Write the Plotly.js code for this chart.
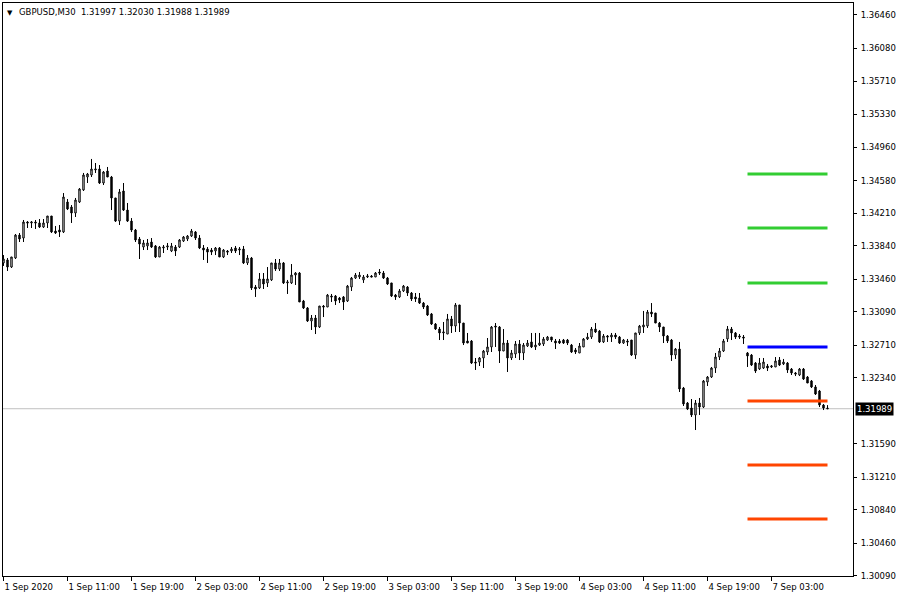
<!DOCTYPE html>
<html>
<head>
<meta charset="utf-8">
<script src="https://cdn.plot.ly/plotly-3.0.1.min.js"></script>
<style>
html,body{margin:0;padding:0;background:#fff;}
#chart{width:900px;height:600px;}
</style>
</head>
<body>
<div id="chart"></div>
<script>
// ---- data (GBPUSD, M30) ----
const symbolTitle = "GBPUSD,M30  1.31997 1.32030 1.31988 1.31989";
const lastPrice = 1.31989;

// trading days shown and the first/last half-hour slot of each day
const dayKeys   = ["2020.09.01", "2020.09.02", "2020.09.03", "2020.09.04", "2020.09.07"];
const dayFirstSlot = [6, 0, 0, 0, 0];
const dayLastSlot  = [47, 47, 47, 47, 20];

const openP = [
1.33644,1.33678,1.33598,1.33700,1.33961,1.33927,1.34109,1.34098,1.34109,1.34098,
1.34052,1.34098,1.34177,1.34007,1.34018,1.33996,1.34336,1.34279,1.34211,1.34336,
1.34473,1.34620,1.34643,1.34700,1.34711,1.34552,1.34688,1.34620,1.34382,1.34120,
1.34461,1.34245,1.34120,1.34018,1.33916,1.33825,1.33837,1.33882,1.33837,1.33712,
1.33814,1.33825,1.33780,1.33825,1.33825,1.33893,1.33916,1.33950,1.33996,1.33927,
1.33814,1.33802,1.33791,1.33780,1.33814,1.33712,1.33780,1.33780,1.33814,1.33791,
1.33802,1.33644,1.33700,1.33371,1.33360,1.33462,1.33417,1.33451,1.33644,1.33575,
1.33644,1.33417,1.33417,1.33507,1.33530,1.33212,1.33133,1.32985,1.33019,1.32917,
1.33155,1.33144,1.33269,1.33269,1.33246,1.33258,1.33212,1.33371,1.33473,1.33485,
1.33451,1.33485,1.33496,1.33485,1.33541,1.33530,1.33473,1.33417,1.33280,1.33258,
1.33326,1.33371,1.33303,1.33258,1.33246,1.33189,1.33155,1.33065,1.32951,1.32894,
1.32849,1.32837,1.33008,1.32928,1.33167,1.32962,1.32758,1.32758,1.32519,1.32519,
1.32565,1.32633,1.32690,1.32928,1.32917,1.32644,1.32735,1.32565,1.32610,1.32724,
1.32622,1.32701,1.32747,1.32690,1.32712,1.32724,1.32769,1.32803,1.32758,1.32758,
1.32769,1.32769,1.32712,1.32656,1.32622,1.32690,1.32781,1.32803,1.32894,1.32871,
1.32747,1.32815,1.32803,1.32826,1.32803,1.32735,1.32758,1.32769,1.32599,1.32849,
1.32917,1.32928,1.33087,1.33076,1.32962,1.32917,1.32815,1.32769,1.32599,1.32667,
1.32224,1.32054,1.31997,1.31918,1.32054,1.32008,1.32292,1.32349,1.32451,1.32576,
1.32644,1.32781,1.32894,1.32849,1.32815,1.32803,1.32622,1.32599,1.32508,1.32440,
1.32451,1.32474,1.32463,1.32463,1.32542,1.32497,1.32508,1.32440,1.32395,1.32372,
1.32440,1.32349,1.32304,1.32236,1.32190,1.32031,1.31997];

const highP = [
1.33734,1.33700,1.33712,1.33973,1.33984,1.34132,1.34120,1.34120,1.34132,1.34143,
1.34143,1.34177,1.34177,1.34064,1.34075,1.34438,1.34370,1.34302,1.34382,1.34495,
1.34666,1.34666,1.34825,1.34779,1.34756,1.34688,1.34734,1.34632,1.34382,1.34484,
1.34552,1.34325,1.34154,1.34030,1.33939,1.33905,1.33916,1.33927,1.33848,1.33837,
1.33848,1.33871,1.33871,1.33848,1.33916,1.33950,1.33961,1.34030,1.34007,1.33961,
1.33848,1.33825,1.33814,1.33825,1.33825,1.33802,1.33791,1.33825,1.33837,1.33825,
1.33837,1.33734,1.33712,1.33394,1.33530,1.33530,1.33598,1.33644,1.33689,1.33689,
1.33655,1.33451,1.33632,1.33541,1.33541,1.33224,1.33144,1.33053,1.33053,1.33155,
1.33167,1.33292,1.33292,1.33280,1.33258,1.33269,1.33394,1.33485,1.33530,1.33541,
1.33507,1.33519,1.33507,1.33541,1.33575,1.33553,1.33485,1.33417,1.33292,1.33348,
1.33394,1.33382,1.33314,1.33303,1.33303,1.33201,1.33167,1.33076,1.32962,1.32917,
1.32974,1.33065,1.33042,1.33189,1.33167,1.32962,1.32849,1.32769,1.32565,1.32576,
1.32656,1.32792,1.32928,1.32962,1.32928,1.32894,1.32769,1.32656,1.32758,1.32769,
1.32735,1.32769,1.32849,1.32849,1.32849,1.32803,1.32815,1.32803,1.32781,1.32781,
1.32781,1.32781,1.32724,1.32678,1.32735,1.32792,1.32849,1.32917,1.32962,1.32883,
1.32837,1.32826,1.32849,1.32849,1.32815,1.32781,1.32781,1.32769,1.32849,1.32940,
1.33099,1.33110,1.33189,1.33076,1.32974,1.32917,1.32826,1.32781,1.32678,1.32747,
1.32236,1.32065,1.32099,1.32088,1.32111,1.32315,1.32360,1.32463,1.32622,1.32678,
1.32781,1.32928,1.32917,1.32860,1.32837,1.32826,1.32633,1.32610,1.32519,1.32565,
1.32565,1.32497,1.32485,1.32576,1.32576,1.32554,1.32519,1.32451,1.32406,1.32451,
1.32451,1.32360,1.32315,1.32258,1.32202,1.32043,1.32030];

const lowP = [
1.33610,1.33553,1.33587,1.33689,1.33882,1.33882,1.34041,1.34041,1.34030,1.34041,
1.34041,1.34041,1.33984,1.33973,1.33939,1.33984,1.34245,1.34098,1.34166,1.34325,
1.34461,1.34552,1.34620,1.34666,1.34541,1.34529,1.34620,1.34245,1.34109,1.34075,
1.34234,1.34109,1.33996,1.33882,1.33689,1.33791,1.33791,1.33814,1.33700,1.33712,
1.33757,1.33791,1.33768,1.33723,1.33814,1.33882,1.33893,1.33939,1.33905,1.33802,
1.33678,1.33644,1.33734,1.33734,1.33712,1.33700,1.33734,1.33757,1.33757,1.33734,
1.33632,1.33621,1.33337,1.33258,1.33348,1.33348,1.33371,1.33439,1.33553,1.33553,
1.33405,1.33292,1.33405,1.33394,1.33201,1.33121,1.32974,1.32883,1.32837,1.32906,
1.33030,1.33144,1.33201,1.33167,1.33189,1.33110,1.33201,1.33326,1.33462,1.33462,
1.33417,1.33473,1.33485,1.33485,1.33507,1.33462,1.33394,1.33258,1.33224,1.33246,
1.33314,1.33269,1.33212,1.33201,1.33178,1.33121,1.33042,1.32940,1.32883,1.32769,
1.32769,1.32837,1.32849,1.32860,1.32860,1.32712,1.32735,1.32497,1.32429,1.32474,
1.32451,1.32599,1.32633,1.32690,1.32508,1.32644,1.32406,1.32542,1.32565,1.32542,
1.32542,1.32690,1.32678,1.32656,1.32701,1.32701,1.32758,1.32747,1.32667,1.32724,
1.32724,1.32712,1.32622,1.32610,1.32622,1.32690,1.32769,1.32781,1.32849,1.32735,
1.32735,1.32747,1.32747,1.32781,1.32724,1.32724,1.32701,1.32588,1.32554,1.32826,
1.32849,1.32906,1.33030,1.32962,1.32860,1.32735,1.32735,1.32531,1.32554,1.32179,
1.32020,1.31974,1.31895,1.31747,1.31918,1.31997,1.32247,1.32338,1.32395,1.32542,
1.32633,1.32747,1.32769,1.32781,1.32781,1.32724,1.32463,1.32474,1.32395,1.32429,
1.32440,1.32417,1.32451,1.32463,1.32474,1.32485,1.32395,1.32372,1.32360,1.32360,
1.32315,1.32281,1.32224,1.32145,1.32008,1.31974,1.31988];

const closeP = [
1.33689,1.33598,1.33712,1.33961,1.33916,1.34109,1.34098,1.34109,1.34098,1.34052,
1.34098,1.34177,1.33996,1.33984,1.33996,1.34393,1.34257,1.34211,1.34359,1.34484,
1.34643,1.34654,1.34711,1.34711,1.34552,1.34677,1.34620,1.34382,1.34120,1.34450,
1.34245,1.34120,1.34018,1.33905,1.33859,1.33871,1.33871,1.33825,1.33712,1.33825,
1.33825,1.33837,1.33837,1.33780,1.33905,1.33939,1.33950,1.34007,1.33927,1.33814,
1.33791,1.33768,1.33768,1.33814,1.33712,1.33791,1.33768,1.33802,1.33780,1.33802,
1.33644,1.33700,1.33360,1.33348,1.33462,1.33405,1.33462,1.33644,1.33575,1.33644,
1.33417,1.33428,1.33507,1.33530,1.33201,1.33133,1.32985,1.33019,1.32917,1.33155,
1.33144,1.33280,1.33258,1.33212,1.33224,1.33201,1.33382,1.33473,1.33507,1.33507,
1.33485,1.33496,1.33485,1.33530,1.33530,1.33473,1.33405,1.33269,1.33258,1.33326,
1.33382,1.33303,1.33235,1.33235,1.33189,1.33144,1.33053,1.32951,1.32894,1.32849,
1.32860,1.33008,1.32928,1.33167,1.32962,1.32735,1.32735,1.32508,1.32508,1.32565,
1.32644,1.32690,1.32917,1.32917,1.32644,1.32735,1.32565,1.32622,1.32724,1.32622,
1.32712,1.32735,1.32690,1.32712,1.32735,1.32781,1.32803,1.32769,1.32735,1.32735,
1.32735,1.32735,1.32633,1.32633,1.32701,1.32781,1.32803,1.32894,1.32860,1.32747,
1.32815,1.32803,1.32826,1.32803,1.32735,1.32769,1.32747,1.32599,1.32849,1.32928,
1.32940,1.33087,1.33065,1.32962,1.32917,1.32815,1.32758,1.32599,1.32667,1.32213,
1.32043,1.31986,1.31918,1.32054,1.32008,1.32304,1.32349,1.32451,1.32576,1.32644,
1.32758,1.32894,1.32849,1.32803,1.32803,1.32792,1.32588,1.32485,1.32417,1.32508,
1.32519,1.32451,1.32474,1.32531,1.32485,1.32519,1.32429,1.32395,1.32383,1.32440,
1.32326,1.32281,1.32236,1.32156,1.32031,1.31997,1.31989];

// daily pivot levels drawn from the Monday open
const pivotNames  = ["R3", "R2", "R1", "P", "S1", "S2", "S3"];
const pivotLevels = [1.34655, 1.34041, 1.33417, 1.32690, 1.32077, 1.31350, 1.30737];
const pivotStartTime = "2020.09.07 00:00";

// price-axis ticks
const yTickVals = [1.36460,1.36080,1.35710,1.35330,1.34960,1.34580,1.34210,1.33840,1.33460,
                   1.33090,1.32710,1.32340,1.31590,1.31210,1.30840,1.30460,1.30090];

// time-axis ticks
const xTickTimes = ["2020.09.01 03:00","2020.09.01 11:00","2020.09.01 19:00","2020.09.02 03:00",
  "2020.09.02 11:00","2020.09.02 19:00","2020.09.03 03:00","2020.09.03 11:00","2020.09.03 19:00",
  "2020.09.04 03:00","2020.09.04 11:00","2020.09.04 19:00","2020.09.07 03:00"];
const xTickText = ["1 Sep 2020","1 Sep 11:00","1 Sep 19:00","2 Sep 03:00","2 Sep 11:00",
  "2 Sep 19:00","3 Sep 03:00","3 Sep 11:00","3 Sep 19:00","4 Sep 03:00","4 Sep 11:00",
  "4 Sep 19:00","7 Sep 03:00"];

// ---- build bar times (30-minute bars, weekend skipped) ----
const times = [];
for (let d = 0; d < dayKeys.length; d++) {
  for (let s = dayFirstSlot[d]; s <= dayLastSlot[d]; s++) {
    const hh = String(Math.floor(s / 2)).padStart(2, "0");
    const mm = s % 2 ? "30" : "00";
    times.push(dayKeys[d] + " " + hh + ":" + mm);
  }
}

const FONT = "DejaVu Sans, Verdana, sans-serif";
const pivotColor = {R3: "#32CD32", R2: "#32CD32", R1: "#32CD32", P: "#0000FF",
                    S1: "#FF4500", S2: "#FF4500", S3: "#FF4500"};

const traces = [{
  type: "candlestick",
  x: times, open: openP, high: highP, low: lowP, close: closeP,
  increasing: {line: {color: "#000000", width: 1}, fillcolor: "#FFFFFF"},
  decreasing: {line: {color: "#000000", width: 1}, fillcolor: "#000000"},
  whiskerwidth: 0,
  hoverinfo: "skip",
  showlegend: false
}];

const endTime = times[times.length - 1];
pivotNames.forEach((n, k) => {
  traces.push({
    type: "scatter", mode: "lines",
    x: [pivotStartTime, endTime], y: [pivotLevels[k], pivotLevels[k]],
    line: {color: pivotColor[n], width: 3},
    hoverinfo: "skip", showlegend: false
  });
});

const layout = {
  width: 900, height: 600,
  margin: {l: 3, r: 47, t: 3, b: 24, pad: 0},
  paper_bgcolor: "#FFFFFF", plot_bgcolor: "#FFFFFF",
  showlegend: false,
  boxgap: 0.5,
  font: {family: FONT, size: 8.5, color: "#000000"},
  xaxis: {
    type: "category", categoryorder: "array", categoryarray: times,
    range: [-0.125, 212.375],
    rangeslider: {visible: false},
    showgrid: false, zeroline: false,
    showline: true, linecolor: "#000000", linewidth: 1, mirror: true,
    ticks: "outside", ticklen: 4, tickwidth: 1, tickcolor: "#000000",
    tickmode: "array", tickvals: xTickTimes, ticktext: xTickText,
    ticklabelposition: "outside right",
    ticklabelstandoff: 3,
    tickfont: {family: FONT, size: 8.5, color: "#000000"},
    fixedrange: true
  },
  yaxis: {
    side: "right",
    range: [1.300895, 1.365959],
    showgrid: false, zeroline: false,
    showline: true, linecolor: "#000000", linewidth: 1, mirror: true,
    ticks: "outside", ticklen: 3, tickwidth: 1, tickcolor: "#000000",
    tickmode: "array", tickvals: yTickVals, tickformat: ".5f",
    ticklabelstandoff: 2,
    tickfont: {family: FONT, size: 8.5, color: "#000000"},
    fixedrange: true
  },
  shapes: [{
    type: "line", xref: "paper", x0: 0, x1: 1, yref: "y", y0: lastPrice, y1: lastPrice,
    line: {color: "#C0C0C0", width: 1}, layer: "below"
  }],
  annotations: [
    {xref: "paper", yref: "paper", x: 0, y: 1, xanchor: "left", yanchor: "top",
     xshift: 2, yshift: -4, text: "▼", showarrow: false,
     font: {family: FONT, size: 7, color: "#000000"}},
    {xref: "paper", yref: "paper", x: 0, y: 1, xanchor: "left", yanchor: "top",
     xshift: 14, yshift: -2, text: symbolTitle.replace("  ", "&nbsp; "), showarrow: false,
     font: {family: FONT, size: 8.5, color: "#000000"}},
    {xref: "paper", yref: "y", x: 1, y: lastPrice, xanchor: "left", yanchor: "middle",
     xshift: 2, text: lastPrice.toFixed(5), showarrow: false,
     bgcolor: "#000000", borderpad: 1,
     font: {family: FONT, size: 8.5, color: "#FFFFFF"}}
  ]
};

Plotly.newPlot("chart", traces, layout, {displayModeBar: false, staticPlot: true});
</script>
</body>
</html>
